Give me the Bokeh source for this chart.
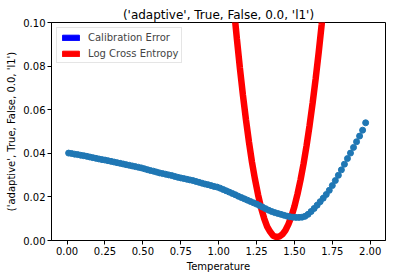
from bokeh.plotting import figure
from bokeh.models import Range1d, FixedTicker, NumeralTickFormatter, Legend, LegendItem
from bokeh.embed import file_html
from bokeh.resources import INLINE

TITLE = "('adaptive', True, False, 0.0, 'l1')"
X_LABEL = "Temperature"
SERIES = ["Calibration Error", "Log Cross Entropy"]
X_TICKS = [0.0, 0.25, 0.5, 0.75, 1.0, 1.25, 1.5, 1.75, 2.0]
Y_TICKS = [0.0, 0.02, 0.04, 0.06, 0.08, 0.10]

# Calibration error (blue scatter), temperatures 0.01, 0.03, ..., 1.97
calib_temp = [round(0.01 + 0.02 * k, 2) for k in range(99)]
calib_err = [
    0.0401, 0.0399, 0.0396, 0.0394, 0.0391, 0.0389, 0.0386, 0.0383, 0.0380, 0.0377,
    0.0374, 0.0371, 0.0369, 0.0366, 0.0363, 0.0360, 0.0357, 0.0354, 0.0351, 0.0348,
    0.0345, 0.0342, 0.0339, 0.0336, 0.0333, 0.0329, 0.0325, 0.0321, 0.0318, 0.0314,
    0.0310, 0.0307, 0.0304, 0.0301, 0.0298, 0.0294, 0.0290, 0.0287, 0.0284, 0.0281,
    0.0278, 0.0275, 0.0271, 0.0267, 0.0263, 0.0259, 0.0256, 0.0252, 0.0248, 0.0245,
    0.0240, 0.0234, 0.0228, 0.0222, 0.0216, 0.0210, 0.0203, 0.0197, 0.0191, 0.0185,
    0.0179, 0.0173, 0.0167, 0.0160, 0.0153, 0.0146, 0.0139, 0.0133, 0.0128, 0.0124,
    0.0120, 0.0116, 0.0112, 0.0109, 0.0107, 0.0106, 0.0106, 0.0107, 0.0111, 0.0120,
    0.0133, 0.0147, 0.0162, 0.0178, 0.0194, 0.0211, 0.0230, 0.0252, 0.0275, 0.0299,
    0.0324, 0.0350, 0.0376, 0.0401, 0.0427, 0.0453, 0.0479, 0.0506, 0.0540,
]

# Log cross entropy (red line), visible part
lce_temp = [1.06, 1.08, 1.10, 1.12, 1.14, 1.16, 1.18, 1.20, 1.22, 1.24, 1.26, 1.28,
            1.30, 1.32, 1.34, 1.36, 1.38, 1.40, 1.42, 1.44, 1.46, 1.48, 1.50, 1.52,
            1.54, 1.56, 1.58, 1.60, 1.62, 1.64, 1.66, 1.68, 1.70, 1.72]
lce_val = [0.139, 0.123, 0.107, 0.0927, 0.0792, 0.0668, 0.0555, 0.0452, 0.0359, 0.0280,
           0.0210, 0.0150, 0.0102, 0.0064, 0.0040, 0.0022, 0.0016, 0.0018, 0.0028, 0.0046,
           0.0074, 0.0110, 0.0156, 0.0212, 0.0277, 0.0351, 0.0435, 0.0528, 0.0630, 0.0741,
           0.0862, 0.0992, 0.1131, 0.128]

FONT = "DejaVu Sans"
NAN = float("nan")

p = figure(width=396, height=278, output_backend="svg", toolbar_location=None,
           x_range=Range1d(-0.103, 2.101), y_range=Range1d(0.0, 0.1),
           min_border_left=51, min_border_right=11, min_border_top=22, min_border_bottom=38)

p.title.text = TITLE
p.title.align = "center"
p.title.text_font = FONT
p.title.text_font_size = "12px"
p.title.text_font_style = "normal"
p.title.text_color = "black"
p.title.standoff = 2

p.background_fill_color = "white"
p.border_fill_color = "white"
p.outline_line_color = "black"
p.outline_line_width = 1
p.outline_line_alpha = 1
p.xgrid.visible = False
p.ygrid.visible = False

red = p.line(lce_temp, lce_val, line_color="#ff0000", line_width=6.5)
blue = p.scatter(calib_temp, calib_err, size=6, fill_color="#1f77b4", line_color="#1f77b4")

for ax, ticks in ((p.xaxis, X_TICKS), (p.yaxis, Y_TICKS)):
    ax.ticker = FixedTicker(ticks=ticks)
    ax.formatter = NumeralTickFormatter(format="0.00")
    ax.major_tick_in = 0
    ax.major_tick_out = 4
    ax.minor_tick_in = 0
    ax.minor_tick_out = 0
    ax.axis_line_color = "black"
    ax.major_tick_line_color = "black"
    ax.major_label_text_font = FONT
    ax.major_label_text_font_size = "10px"
    ax.major_label_text_color = "black"
    ax.major_label_standoff = 2
    ax.axis_label_text_font = FONT
    ax.axis_label_text_font_size = "10px"
    ax.axis_label_text_font_style = "normal"
    ax.axis_label_text_color = "black"
    ax.axis_label_standoff = 3

p.xaxis.axis_label = X_LABEL
p.yaxis.axis_label = TITLE

leg_blue = p.quad(left=[NAN], right=[NAN], top=[NAN], bottom=[NAN],
                  fill_color="#0000ff", line_color="#0000ff")
leg_red = p.quad(left=[NAN], right=[NAN], top=[NAN], bottom=[NAN],
                 fill_color="#ff0000", line_color="#ff0000")

legend = Legend(items=[LegendItem(label=SERIES[0], renderers=[leg_blue]),
                       LegendItem(label=SERIES[1], renderers=[leg_red])],
                location="top_left")
legend.border_line_color = "#cccccc"
legend.border_line_width = 1
legend.background_fill_color = "white"
legend.background_fill_alpha = 0.8
legend.padding = 3
legend.spacing = 4
legend.margin = 5
legend.glyph_width = 21
legend.glyph_height = 7
legend.label_height = 12
legend.label_standoff = 7
legend.label_text_font = FONT
legend.label_text_font_size = "10px"
legend.label_text_baseline = "middle"
p.add_layout(legend)

open("out.html", "w").write(file_html(p, INLINE))
